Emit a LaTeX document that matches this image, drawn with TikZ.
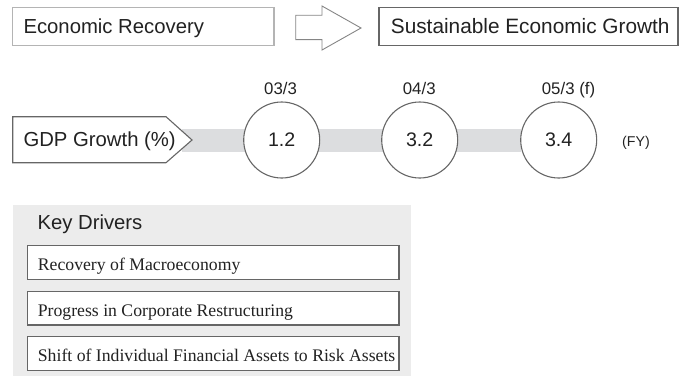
\documentclass[tikz,border=0pt]{standalone}
\usepackage{fontspec}
\setmainfont{Liberation Serif}
\newfontfamily\hv{Liberation Sans}
\definecolor{ink}{HTML}{222222}
\definecolor{edge}{HTML}{666666}
\definecolor{paleedge}{HTML}{B4B4B4}
\definecolor{band}{HTML}{DCDDDF}
\definecolor{panel}{HTML}{ECECEC}
\tikzset{
  sanstext/.style={inner sep=0pt, text=ink, font=\hv\fontsize{20.3}{23}\selectfont},
  widetext/.style={inner sep=0pt, text=ink, font=\hv\fontsize{20.8}{23}\selectfont},
  smalltext/.style={inner sep=0pt, text=ink, font=\hv\fontsize{16.8}{19}\selectfont},
  fytext/.style={inner sep=0pt, text=ink, font=\hv\fontsize{14.2}{16}\selectfont},
  serifitem/.style={inner sep=0pt, text=ink, font=\fontsize{17.7}{20}\selectfont},
  framebox/.style={draw=edge, fill=white, line width=1.1pt},
  yearbubble/.style={circle, draw=edge, fill=white, line width=1.1pt,
    minimum size=76pt, inner sep=0pt, text=ink, font=\hv\fontsize{19.6}{22}\selectfont},
}
\begin{document}
\begin{tikzpicture}[x=1pt, y=-1pt]
\useasboundingbox (0,0) rectangle (685,378);

% top row: from recovery to sustainable growth
\draw[draw=paleedge, fill=white, line width=1.1pt] (12.7,7.3) rectangle (274,45.7);
\node[sanstext, anchor=base west] (recov) at (23.3,33.3) {Economic Recovery};
\draw[draw=edge!80, fill=white, line width=0.9pt]
  (295.7,15.2) -- (322,15.2) -- (322,6) -- (361,28) -- (322,50) -- (322,39.6) -- (295.7,39.6) -- cycle;
\draw[framebox] (379,7.3) rectangle (678,45.7);
\node[widetext, anchor=base west] (sust) at (390.7,33.3) {Sustainable Economic Growth};

% GDP growth row
\fill[band] (182,129) rectangle (521,151.7);
\draw[framebox]
  (12.7,116.7) -- (166,116.7) -- (192,140) -- (166,162.7) -- (12.7,162.7) -- cycle;
\node[sanstext, anchor=base west] (gdp) at (23.3,146.5) {GDP Growth (\%)};

\node[yearbubble] (y03) at (281.7,140) {1.2};
\node[yearbubble] (y04) at (419.7,140) {3.2};
\node[yearbubble] (y05) at (558.7,140) {3.4};

\node[smalltext, anchor=base west] (l03) at (264,94.3) {03/3};
\node[smalltext, anchor=base west] (l04) at (402.7,94.3) {04/3};
\node[smalltext, anchor=base west] (l05) at (541.7,94.3) {05/3 (f)};
\node[fytext, anchor=base] (fy) at (636,146.5) {(FY)};

% key drivers panel
\fill[panel] (12.7,205) rectangle (411,376);
\node[sanstext, anchor=base west] (keyd) at (37.3,229.3) {Key Drivers};

\draw[framebox] (27.3,245.7) rectangle (399,279.3);
\node[serifitem, anchor=base west] (d1) at (37.7,270) {Recovery of Macroeconomy};
\draw[framebox] (27.3,291.7) rectangle (399,325);
\node[serifitem, anchor=base west] (d2) at (37.7,316) {Progress in Corporate Restructuring};
\draw[framebox] (27.3,336.7) rectangle (399,370.7);
\node[serifitem, anchor=base west] (d3) at (37.7,361.2) {Shift of Individual Financial Assets to Risk Assets};
\end{tikzpicture}
\end{document}
